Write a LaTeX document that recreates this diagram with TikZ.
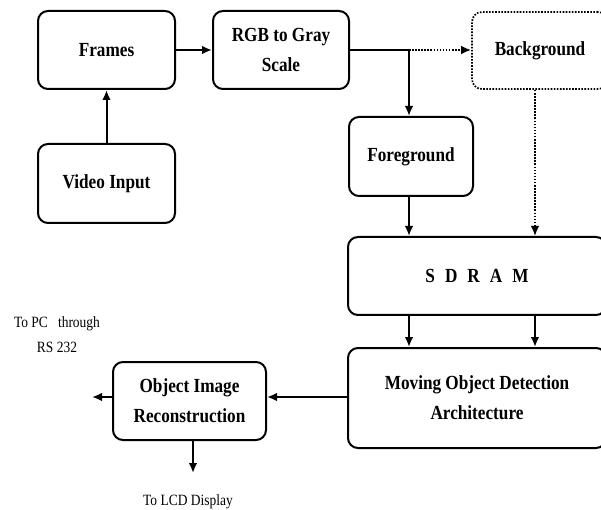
\documentclass[tikz,border=0pt]{standalone}
\usepackage{fontspec}
\setmainfont{Liberation Serif}[FakeStretch=0.86]
\usetikzlibrary{arrows.meta,calc}

\begin{document}
\begin{tikzpicture}[x=0.75pt,y=-0.75pt,
  blk/.style={draw,line width=1.5pt,rounded corners=7.5pt,
    inner sep=0pt,align=center,
    font=\fontsize{15pt}{22.5pt}\selectfont\bfseries},
  dotblk/.style={blk,line width=1.3pt,dash pattern=on 1.2pt off 1.1pt},
  arr/.style={line width=1.5pt,-{Latex[length=7.5pt,width=6.5pt]}},
  dotarr/.style={line width=1.3pt,dash pattern=on 1.2pt off 1.1pt,
    -{Latex[length=7.5pt,width=6.5pt]}},
  note/.style={align=center,inner sep=0pt,
    font=\fontsize{11.75pt}{18.75pt}\selectfont}]

\useasboundingbox (0,0) rectangle (601,510);

% processing blocks
\node[blk,minimum width=102.75pt,minimum height=58.5pt] (frames) at (106.5,50) {Frames};
\node[blk,minimum width=102pt,minimum height=58.5pt] (rgb) at (281,50) {RGB to Gray\\Scale};
\node[blk,minimum width=102.75pt,minimum height=59.25pt] (video) at (106.5,183.5) {Video Input};
\node[dotblk,minimum width=102pt,minimum height=57.75pt] (bg) at (540,50.5) {Background};
\node[blk,minimum width=93pt,minimum height=59.25pt] (fg) at (411,156.5) {Foreground};
\node[blk,minimum width=193.5pt,minimum height=58.5pt] (sdram) at (477,276)
  {S\hspace{7.5pt}D\hspace{7.5pt}R\hspace{7.5pt}A\hspace{7.5pt}M};
\node[blk,minimum width=193.5pt,minimum height=75pt] (mod) at (477,398)
  {Moving Object Detection\\Architecture};
\node[blk,minimum width=114.75pt,minimum height=58.5pt] (obj) at (189.5,401)
  {Object Image\\Reconstruction};

% free ends and branch points
\coordinate (split) at (409,50);
\coordinate (pcend) at (92,397);
\coordinate (lcdend) at (193,473);

% output labels
\node[note] (pc) at (57,334.5) {To PC\ \ \ through\\RS 232};
\node[note] (lcd) at (188,502) {To LCD Display};

% connectors
\draw[arr] (video) -- (frames);
\draw[arr] (frames) -- (rgb);
\draw[line width=1.5pt] (rgb.east |- split) -- (split);
\draw[arr] (split) -- (split |- fg.north);
\draw[dotarr] (split) -- (bg.west |- split);
\draw[arr] (fg.south -| split) -- (split |- sdram.north);
\draw[dotarr] (535,0 |- bg.south) -- (535,0 |- sdram.north);
\draw[arr] (sdram.south -| split) -- (split |- mod.north);
\draw[arr] (535,0 |- sdram.south) -- (535,0 |- mod.north);
\draw[arr] (mod.west |- 0,397) -- (obj.east |- 0,397);
\draw[arr] (obj.west |- pcend) -- (pcend);
\draw[arr] (obj.south -| lcdend) -- (lcdend);

\end{tikzpicture}
\end{document}
